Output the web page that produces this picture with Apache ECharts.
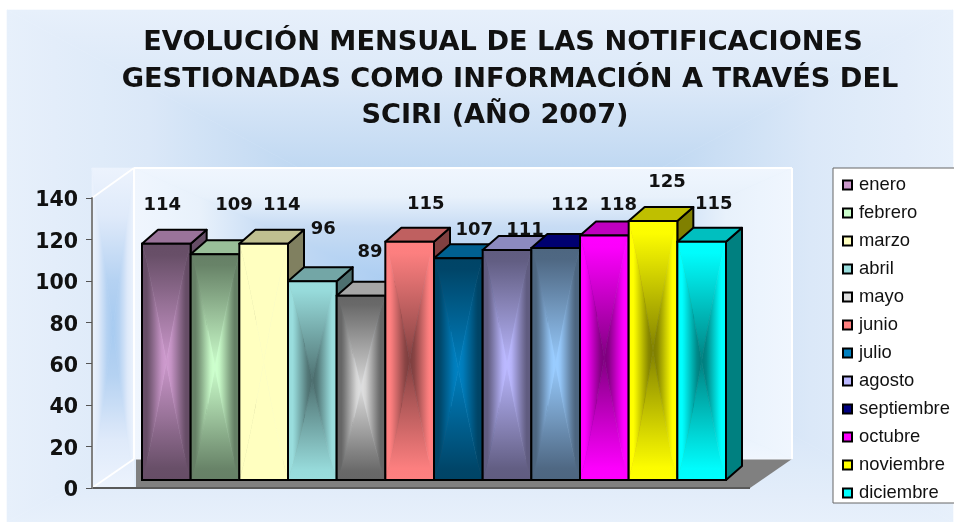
<!DOCTYPE html>
<html>
<head>
<meta charset="utf-8">
<title>SCIRI 2007</title>
<script src="https://cdn.jsdelivr.net/npm/echarts@6/dist/echarts.min.js"></script>
<style>
    html, body {margin: 0; padding: 0; background: #fff;}
    #chart {width: 954px; height: 522px;}
</style>
</head>
<body>
<div id="chart"></div>
<script>
var titleLines = [
    'EVOLUCIÓN MENSUAL DE LAS NOTIFICACIONES',
    'GESTIONADAS COMO INFORMACIÓN A TRAVÉS DEL',
    'SCIRI (AÑO 2007)'
];
var months = ['enero', 'febrero', 'marzo', 'abril', 'mayo', 'junio', 'julio', 'agosto', 'septiembre', 'octubre', 'noviembre', 'diciembre'];
var values = [114, 109, 114, 96, 89, 115, 107, 111, 112, 118, 125, 115];

// colours of each bar: rim and middle of the front face, top and side faces, legend key
var rimColors = ['#664d66', '#668066', '#ffffc0', '#99dddd', '#666666', '#ff8080', '#004466', '#605c80', '#4d6680', '#ff00ff', '#ffff00', '#00ffff'];
var midColors = ['#cc99cc', '#ccffcc', '#ffffc0', '#4d6f6f', '#dddddd', '#804040', '#0080c0', '#bbb8ff', '#99ccff', '#800080', '#808000', '#008080'];
var topColors = ['#9a739a', '#99bf99', '#bfbf90', '#73a6a6', '#a6a6a6', '#bf6060', '#006090', '#8c8abf', '#000070', '#bf00bf', '#bfbf00', '#00bfbf'];
var sideColors = ['#664d66', '#668066', '#808060', '#4d6f6f', '#666666', '#804040', '#004466', '#605c80', '#000060', '#800080', '#808000', '#008080'];
var legendColors = ['#cc99cc', '#ccffcc', '#ffffc0', '#99dddd', '#dddddd', '#ff8080', '#0080c0', '#bbb8ff', '#000080', '#ff00ff', '#ffff00', '#00ffff'];

// the data labels were moved by hand in the original, so each has its own offset from the bar top
var labelDx = [-4, 19, 18, 11, 9, 16, 16, 18, 14, 14, 14, 12];
var labelDy = [-39, -49, -39, -52, -43, -37, -28, -20, -43, -30, -39, -37];

var depthX = 16, depthY = 14, liftY = 8;

function colorAt(stops, f) {
    for (var i = 1; i < stops.length; i++) {
        if (f <= stops[i][0]) {
            var span = stops[i][0] - stops[i - 1][0];
            var k = span > 0 ? (f - stops[i - 1][0]) / span : 0;
            return echarts.color.lerp(k, [stops[i - 1][1], stops[i][1]]);
        }
    }
    return stops[stops.length - 1][1];
}

// "from centre" fill: top and bottom parts run on vStops, left and right parts on hStops.
// seamPower > 1 bends the seam between them towards an hourglass
function pathFill(x0, y0, x1, y1, vStops, hStops, seamPower) {
    var cx = (x0 + x1) / 2, cy = (y0 + y1) / 2;
    var hw = (x1 - x0) / 2, hh = (y1 - y0) / 2;
    var vOut = [], hOut = [];
    for (var k = 0; k <= 10; k++) {
        vOut.push({offset: k / 10, color: colorAt(vStops, k / 10)});
        hOut.push({offset: k / 10, color: colorAt(hStops, k / 10)});
    }
    function back(cs) {
        return cs.map(function (s) {
            return {offset: 1 - s.offset, color: s.color};
        }).reverse();
    }
    function grad(x2, y2, cs) {
        return {type: 'linear', x: 0, y: 0, x2: x2, y2: y2, colorStops: cs};
    }
    // seam offsets from the centre, corner first
    var seam = [];
    for (var j = 0; j <= 8; j++) {
        var tv = j / 8;
        seam.push([hw * (1 - Math.pow(tv, 1 / seamPower)), hh * (1 - tv)]);
    }
    // corner to centre along one seam, then back out along the other
    function part(ax, ay, bx, by) {
        var pts = seam.map(function (s) {
            return [cx + ax * s[0], cy + ay * s[1]];
        });
        for (var n = seam.length - 2; n >= 0; n--) {
            pts.push([cx + bx * seam[n][0], cy + by * seam[n][1]]);
        }
        return pts;
    }
    return [
        {points: part(-1, -1, 1, -1), fill: grad(0, 1, vOut)},
        {points: part(-1, 1, 1, 1), fill: grad(0, 1, back(vOut))},
        {points: part(-1, -1, -1, 1), fill: grad(1, 0, hOut)},
        {points: part(1, -1, 1, 1), fill: grad(1, 0, back(hOut))}
    ];
}

function renderBar(params, api) {
    var i = params.seriesIndex;
    var top = api.coord([api.value(0), api.value(1)]);
    var zero = api.coord([api.value(0), 0]);
    var w = api.size([1, 0])[0];
    var l = top[0] - w / 2, r = top[0] + w / 2;
    var t = top[1] - liftY, b = zero[1] - liftY;
    var line = {stroke: '#000', lineWidth: 2, lineJoin: 'round'};
    var children = [
        {
            type: 'polygon',
            shape: {points: [[r, t], [r + depthX, t - depthY], [r + depthX, b - depthY], [r, b]]},
            style: Object.assign({fill: sideColors[i]}, line)
        },
        {
            type: 'polygon',
            shape: {points: [[l, t], [l + depthX, t - depthY], [r + depthX, t - depthY], [r, t]]},
            style: Object.assign({fill: topColors[i]}, line)
        }
    ];
    var vStops = [[0, rimColors[i]], [0.08, rimColors[i]], [1, midColors[i]]];
    var hStops = [[0, rimColors[i]], [0.22, rimColors[i]], [0.85, midColors[i]], [1, midColors[i]]];
    pathFill(l, t, r, b, vStops, hStops, 1.15).forEach(function (p) {
        children.push({
            type: 'polygon',
            shape: {points: p.points},
            style: {fill: p.fill, stroke: p.fill, lineWidth: 0.6}
        });
    });
    children.push({
        type: 'rect',
        shape: {x: l, y: t, width: w, height: b - t},
        style: {fill: 'none', stroke: '#000', lineWidth: 2}
    });
    children.push({
        type: 'text',
        z2: 100,
        style: {
            text: String(api.value(1)),
            x: top[0] + labelDx[i],
            y: t + labelDy[i],
            fill: '#111',
            font: 'bold 18px "DejaVu Sans"',
            textAlign: 'center',
            textVerticalAlign: 'middle'
        }
    });
    return {type: 'group', children: children};
}

function fillElements(x0, y0, x1, y1, stops, z) {
    return pathFill(x0, y0, x1, y1, stops, stops, 1).map(function (p) {
        return {
            type: 'polygon', silent: true, z: z,
            shape: {points: p.points},
            style: {fill: p.fill, stroke: p.fill, lineWidth: 0.6}
        };
    });
}

function lineElement(x1, y1, x2, y2, color, width, z) {
    return {
        type: 'line', silent: true, z: z,
        shape: {x1: x1, y1: y1, x2: x2, y2: y2},
        style: {stroke: color, lineWidth: width}
    };
}

// chart area, back wall, side wall and floor
var decor = []
    .concat(fillElements(7, 10, 953, 522, [[0, '#e7f0fb'], [0.3, '#dbe8f8'], [0.62, '#bfd8f2'], [1, '#a0c8f0']], -20))
    .concat(fillElements(134, 168, 792, 459, [[0, '#f0f6fe'], [0.2, '#e8f1fb'], [0.4, '#c8dcf4'], [1, '#99c4f0']], -15))
    .concat(fillElements(92, 168, 134, 488, [[0, '#ecf3fd'], [0.3, '#dfeafa'], [0.7, '#b5d2f2'], [1, '#a6caf0']], -15));
decor.push({
    type: 'polygon', silent: true, z: -10,
    shape: {points: [[136, 459], [792, 459], [750, 488], [136, 488]]},
    style: {fill: '#808080'}
});
decor.push(lineElement(92, 198, 134, 168, '#fff', 2, -9));
decor.push(lineElement(92, 488, 134, 459, '#fff', 2, -9));
decor.push(lineElement(134, 168, 134, 459, '#fff', 2, -9));
decor.push(lineElement(134, 168, 792, 168, '#fff', 2, -9));
decor.push(lineElement(792, 168, 792, 459, '#fff', 2, -9));
decor.push(lineElement(136, 459, 792, 459, '#f4f8fe', 1, -9));
decor.push(lineElement(92, 488, 750, 488, '#5a5a5a', 2, -8));

var myChart = echarts.init(document.getElementById('chart'));
var option = {
    animation: false,
    backgroundColor: '#fff',
    title: titleLines.map(function (text, i) {
        return {
            text: text,
            left: [503, 510, 495][i],
            top: [29, 66, 102][i],
            textAlign: 'center',
            padding: 0,
            textStyle: {fontFamily: 'DejaVu Sans', fontWeight: 'bold', fontSize: 27.2, color: '#111'}
        };
    }),
    legend: {
        orient: 'vertical',
        left: 833,
        top: 168,
        icon: 'rect',
        itemWidth: 9,
        itemHeight: 9,
        itemGap: 8,
        selectedMode: false,
        padding: [7, 30, 0, 9],
        backgroundColor: '#fff',
        borderColor: '#666',
        borderWidth: 1,
        textStyle: {fontFamily: 'Liberation Sans', fontSize: 18.4, lineHeight: 20, color: '#111', padding: [0, 0, 0, 2]},
        data: months.map(function (m, i) {
            return {name: m, itemStyle: {color: legendColors[i], borderColor: '#000', borderWidth: 2}};
        })
    },
    grid: {left: 142, right: 228, top: 198, bottom: 34},
    xAxis: {type: 'category', data: months, show: false},
    yAxis: {
        type: 'value',
        min: 0,
        max: 140,
        interval: 20,
        offset: 50,
        splitLine: {show: false},
        axisLine: {show: true, lineStyle: {color: '#808080', width: 2}},
        axisTick: {show: true, length: 6, lineStyle: {color: '#555', width: 1}},
        axisLabel: {margin: 14, color: '#111', fontFamily: 'DejaVu Sans', fontWeight: 'bold', fontSize: 20.5, verticalAlign: 'top', lineHeight: 6}
    },
    graphic: {elements: decor},
    series: months.map(function (m, i) {
        return {
            type: 'custom',
            name: m,
            renderItem: renderBar,
            itemStyle: {color: legendColors[i]},
            encode: {x: 0, y: 1},
            data: [[i, values[i]]]
        };
    })
};

myChart.setOption(option);
</script>
</body>
</html>
